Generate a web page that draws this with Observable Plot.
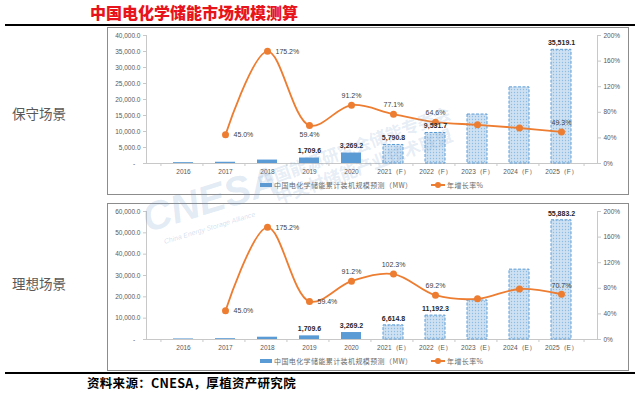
<!DOCTYPE html>
<html><head><meta charset="utf-8">
<script src="https://cdn.jsdelivr.net/npm/d3@7"></script>
<script src="https://cdn.jsdelivr.net/npm/@observablehq/plot@0.6"></script>
<style>
body{margin:0;background:#fff;width:640px;height:393px;position:relative;overflow:hidden;font-family:"Noto Sans CJK SC",sans-serif;}
#title{position:absolute;left:90px;top:2px;font-size:16px;line-height:20px;font-weight:900;color:#e8141b;white-space:nowrap;}
.hr{position:absolute;left:5px;width:630px;height:2px;background:#000;}
.side{position:absolute;left:12px;font-size:13.5px;line-height:14px;color:#595959;white-space:nowrap;}
.panel{position:absolute;left:107px;width:520px;height:166px;border:1px solid #8c8c8c;background:#fff;}
.panel svg{position:absolute;left:0;top:0;}
.leg{position:absolute;font-size:7px;line-height:8px;color:#6b6b6b;white-space:nowrap;letter-spacing:0.4px;}
.legbar{position:absolute;width:12px;height:4px;background:#5b9bd5;}
.legline{position:absolute;width:14px;height:2px;background:#ed7d31;}
.legdot{position:absolute;width:6px;height:6px;border-radius:50%;background:#ed7d31;}
#source{position:absolute;left:87px;top:376px;font-size:12.5px;line-height:14px;font-weight:700;color:#000;letter-spacing:0.3px;white-space:nowrap;}
.wm{position:absolute;white-space:nowrap;pointer-events:none;transform-origin:left bottom;}
</style></head><body>
<div id="title">中国电化学储能市场规模测算</div>
<div class="hr" style="top:24px"></div>
<div class="side" style="top:106px">保守场景</div>
<div class="side" style="top:276px">理想场景</div>
<div class="panel" id="p1" style="top:27px"></div>
<div class="panel" id="p2" style="top:203px"></div>
<div class="hr" style="top:372px"></div>
<div id="source">资料来源：CNESA，厚植资产研究院</div>
<div class="wm" style="left:150px;top:196px;font:italic 700 40px 'Liberation Sans',sans-serif;color:rgba(110,150,200,0.2);transform:rotate(-17deg);">CNESA</div>
<div class="wm" style="left:165px;top:238px;font:italic 400 7px 'Liberation Sans',sans-serif;color:rgba(110,150,200,0.3);transform:rotate(-17deg);">China Energy Storage Alliance</div>
<div class="wm" style="left:262px;top:168px;font:700 17px 'Noto Sans CJK SC',sans-serif;color:rgba(110,150,200,0.18);transform:rotate(-20deg);">中国能源研究会储能专委会</div>
<div class="wm" style="left:280px;top:184px;font:700 17px 'Noto Sans CJK SC',sans-serif;color:rgba(110,150,200,0.18);transform:rotate(-20deg);">中关村储能产业技术联盟</div>
<script>
// ---- data ----
const years = ["2016","2017","2018","2019","2020","2021","2022","2023","2024","2025"];
const conservativeLabels = ["2016","2017","2018","2019","2020","2021（F）","2022（F）","2023（F）","2024（F）","2025（F）"];
const idealLabels = ["2016","2017","2018","2019","2020","2021（E）","2022（E）","2023（E）","2024（E）","2025（E）"];
const conservativeMW = [268.8, 389.7, 1072.5, 1709.6, 3269.2, 5790.8, 9531.7, 15300, 23790, 35519.1];
const idealMW = [268.8, 389.7, 1072.5, 1709.6, 3269.2, 6614.8, 11192.3, 18300, 32740, 55883.2];
const conservativeGrowth = [null, 45.0, 175.2, 59.4, 91.2, 77.1, 64.6, 60.5, 55.5, 49.3];
const idealGrowth = [null, 45.0, 175.2, 59.4, 91.2, 102.3, 69.2, 63.5, 78.9, 70.7];
const forecastFrom = "2021";
const labelledBars = ["2019","2020","2021","2022","2025"];
const labelledGrowth = ["2017","2018","2019","2020","2021","2022","2025"];
const legendBarText = "中国电化学储能累计装机规模预测（MW）";
const legendLineText = "年增长率%";
const mwAxisMax = {conservative: 40000, ideal: 60000};
const mwAxisStep = {conservative: 5000, ideal: 10000};
const pctTicks = [0, 40, 80, 120, 160, 200];

function drawChart(el, id, labels, mw, growth, maxMW, step, growthRight, growthBelow) {
  const W = 520, H = 166, mL = 38, mR = 31, mT = 7, mB = 31;
  const data = labels.map((l, i) => ({label: l, year: years[i], mw: mw[i], g: growth[i], forecast: years[i] >= forecastFrom}));
  const pctToY = p => p / 200 * maxMW;
  const gdata = data.filter(d => d.g != null);
  const half = (W - mL - mR) / labels.length / 2;
  const font = "'Liberation Sans', Arial, sans-serif";
  const mwTicks = d3.range(0, maxMW + 1, step);
  const svg = Plot.plot({
    width: W, height: H, marginLeft: mL, marginRight: mR, marginTop: mT, marginBottom: mB,
    x: {domain: labels, padding: 0.53, axis: null, label: null},
    y: {domain: [0, maxMW], axis: null, label: null},
    style: {fontFamily: font, fontSize: "6.5px", color: "#595959", background: "transparent", overflow: "visible"},
    marks: [
      Plot.frame({anchor: "left", stroke: "#c8c8c8"}),
      Plot.frame({anchor: "right", stroke: "#c8c8c8"}),
      Plot.ruleY([0], {stroke: "#c8c8c8"}),
      Plot.ruleX(labels, {x: d => d, y1: 0, y2: 0, insetBottom: -3, dx: -half, stroke: "#c8c8c8"}),
      Plot.ruleX([labels[labels.length - 1]], {x: d => d, y1: 0, y2: 0, insetBottom: -3, dx: half, stroke: "#c8c8c8"}),
      Plot.axisY(mwTicks, {anchor: "left", label: null, tickSize: 3, tickPadding: 3, stroke: "#c8c8c8", fill: "#595959",
        tickFormat: v => v === 0 ? "-\u00a0\u00a0\u00a0" : d3.format(",.1f")(v)}),
      Plot.axisY(pctTicks.map(pctToY), {anchor: "right", label: null, tickSize: 3, tickPadding: 3, stroke: "#c8c8c8", fill: "#595959",
        tickFormat: v => Math.round(v / maxMW * 200) + "%"}),
      Plot.axisX({anchor: "bottom", label: null, tickSize: 0, tickPadding: 6, fill: "#595959"}),
      Plot.barY(data.filter(d => !d.forecast), {x: "label", y: "mw", fill: "#5b9bd5"}),
      Plot.barY(data.filter(d => d.forecast), {x: "label", y: "mw", fill: `url(#${id})`, stroke: "#5b9bd5", strokeWidth: 1, strokeDasharray: "3,1.5"}),
      Plot.line(gdata, {x: "label", y: d => pctToY(d.g), stroke: "#ed7d31", strokeWidth: 1.8, curve: "catmull-rom"}),
      Plot.dot(gdata, {x: "label", y: d => pctToY(d.g), r: 3.5, fill: "#ed7d31", stroke: "none"}),
      Plot.text(data.filter(d => labelledBars.includes(d.year)), {x: "label", y: "mw", text: d => d3.format(",.1f")(d.mw),
        dy: -7, fontWeight: "bold", fill: "#262626", fontSize: 7}),
      Plot.text(gdata.filter(d => labelledGrowth.includes(d.year) && growthRight.includes(d.year)), {x: "label", y: d => pctToY(d.g),
        text: d => d.g.toFixed(1) + "%", dx: 8, textAnchor: "start", fill: "#404040", fontSize: 7}),
      Plot.text(gdata.filter(d => labelledGrowth.includes(d.year) && growthBelow.includes(d.year)), {x: "label", y: d => pctToY(d.g),
        text: d => d.g.toFixed(1) + "%", dy: 9, fill: "#404040", fontSize: 7}),
      Plot.text(gdata.filter(d => labelledGrowth.includes(d.year) && !growthRight.includes(d.year) && !growthBelow.includes(d.year)), {x: "label", y: d => pctToY(d.g),
        text: d => d.g.toFixed(1) + "%", dy: -9, fill: "#404040", fontSize: 7})
    ]
  });
  svg.insertAdjacentHTML("afterbegin",
    `<defs><pattern id="${id}" width="3" height="3" patternUnits="userSpaceOnUse">
      <rect width="3" height="3" fill="#cde1f2"></rect>
      <circle cx="1.5" cy="1.5" r="0.7" fill="#8fbbe2"></circle>
    </pattern></defs>`);
  el.appendChild(svg);
  el.insertAdjacentHTML("beforeend",
    `<div class="legbar" style="left:152px;top:155px"></div>
     <div class="leg" style="left:166px;top:153px">${legendBarText}</div>
     <div class="legline" style="left:323px;top:156px"></div>
     <div class="legdot" style="left:327px;top:154px"></div>
     <div class="leg" style="left:339px;top:153px">${legendLineText}</div>`);
}

drawChart(document.getElementById("p1"), "dots1", conservativeLabels, conservativeMW, conservativeGrowth,
  mwAxisMax.conservative, mwAxisStep.conservative, ["2017","2018"], ["2019"]);
drawChart(document.getElementById("p2"), "dots2", idealLabels, idealMW, idealGrowth,
  mwAxisMax.ideal, mwAxisStep.ideal, ["2017","2018","2019"], []);
</script>
</body></html>
